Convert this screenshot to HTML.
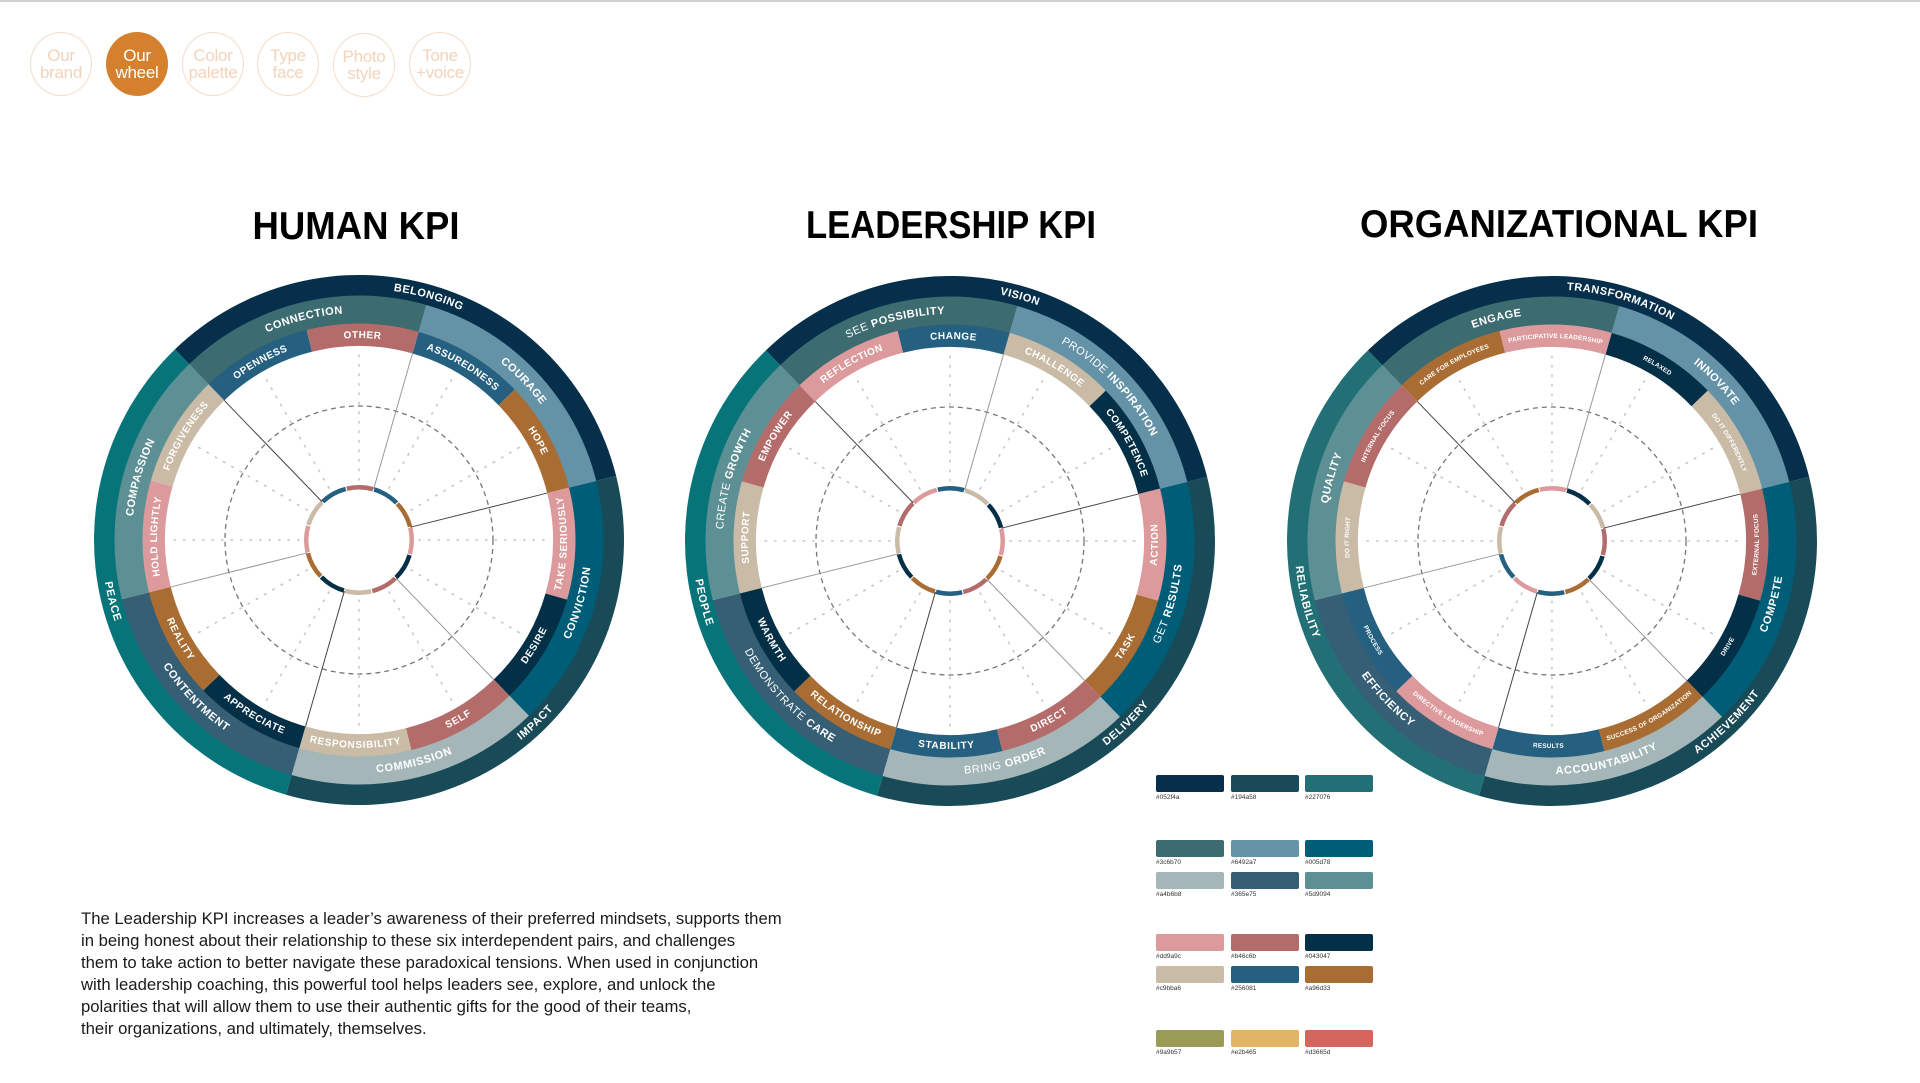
<!DOCTYPE html>
<html><head><meta charset="utf-8">
<style>
html,body{margin:0;padding:0;background:#fff;}
body{width:1920px;height:1083px;position:relative;overflow:hidden;font-family:"Liberation Sans",sans-serif;}
.topline{position:absolute;left:0;top:0;width:1920px;height:2px;background:#d0d0d0;}
.nav{position:absolute;width:62px;height:64px;border-radius:50%;border:1.5px solid #f6dcc8;box-sizing:border-box;color:#f3d3ba;font-size:17px;line-height:17px;text-align:center;display:flex;align-items:center;justify-content:center;letter-spacing:-0.3px;}
.nav.active{background:#d4802d;border-color:#d4802d;color:#fff;}
.para{position:absolute;left:81px;top:908px;font-size:16.7px;line-height:22px;color:#1a1a1a;white-space:nowrap;}
.sw{position:absolute;width:68px;height:17px;border-radius:2px;}
.swl{position:absolute;font-size:6.5px;color:#333;}
</style></head>
<body>
<div class="topline"></div>
<div class="nav" style="left:30px;top:32px">Our<br>brand</div>
<div class="nav active" style="left:106px;top:32px">Our<br>wheel</div>
<div class="nav" style="left:182px;top:32px">Color<br>palette</div>
<div class="nav" style="left:257px;top:32px">Type<br>face</div>
<div class="nav" style="left:333px;top:33px">Photo<br>style</div>
<div class="nav" style="left:409px;top:32px">Tone<br>+voice</div>

<svg id="chart" width="1920" height="1083" style="position:absolute;left:0;top:0">
<text x="356" y="239" text-anchor="middle" font-family="Liberation Sans" font-weight="bold" font-size="39" textLength="207" lengthAdjust="spacingAndGlyphs">HUMAN KPI</text>
<text x="951" y="238" text-anchor="middle" font-family="Liberation Sans" font-weight="bold" font-size="39" textLength="290" lengthAdjust="spacingAndGlyphs">LEADERSHIP KPI</text>
<text x="1559" y="237" text-anchor="middle" font-family="Liberation Sans" font-weight="bold" font-size="39" textLength="398" lengthAdjust="spacingAndGlyphs">ORGANIZATIONAL KPI</text>
</svg>

<div class="para">The Leadership KPI increases a leader’s awareness of their preferred mindsets, supports them<br>in being honest about their relationship to these six interdependent pairs, and challenges<br>them to take action to better navigate these paradoxical tensions. When used in conjunction<br>with leadership coaching, this powerful tool helps leaders see, explore, and unlock the<br>polarities that will allow them to use their authentic gifts for the good of their teams,<br>their organizations, and ultimately, themselves.</div>

<div id="swatches"></div>

<script>
const B="#256081",BR="#a96d33",P="#dd9a9c",D="#043047",R="#b46c6b",BE="#c9bba6";
const middleColors=["#6492a7","#005d78","#a4b6b8","#365e75","#5d9094","#3c6b70"];
const humanOuter=["BELONGING","IMPACT","PEACE"];
const humanOuterColors=["#052f4a","#194a58","#077479"];
const humanMiddle=["COURAGE","CONVICTION","COMMISSION","CONTENTMENT","COMPASSION","CONNECTION"];
const humanInner=["ASSUREDNESS","HOPE","TAKE SERIOUSLY","DESIRE","SELF","RESPONSIBILITY","APPRECIATE","REALITY","HOLD LIGHTLY","FORGIVENESS","OPENNESS","OTHER"];
const humanInnerColors=[B,BR,P,D,R,BE,D,BR,P,BE,B,R];
const leadOuter=["VISION","DELIVERY","PEOPLE"];
const leadOuterColors=["#052f4a","#194a58","#077479"];
const leadMiddle=["PROVIDE|INSPIRATION","GET|RESULTS","BRING|ORDER","DEMONSTRATE|CARE","CREATE|GROWTH","SEE|POSSIBILITY"];
const leadInner=["CHALLENGE","COMPETENCE","ACTION","TASK","DIRECT","STABILITY","RELATIONSHIP","WARMTH","SUPPORT","EMPOWER","REFLECTION","CHANGE"];
const leadInnerColors=[BE,D,P,BR,R,B,BR,D,BE,R,P,B];
const orgOuter=["TRANSFORMATION","ACHIEVEMENT","RELIABILITY"];
const orgOuterColors=["#052f4a","#194a58","#227076"];
const orgMiddle=["INNOVATE","COMPETE","ACCOUNTABILITY","EFFICIENCY","QUALITY","ENGAGE"];
const orgInner=["RELAXED","DO IT DIFFERENTLY","EXTERNAL FOCUS","DRIVE","SUCCESS OF ORGANIZATION","RESULTS","DIRECTIVE LEADERSHIP","PROCESS","DO IT RIGHT","INTERNAL FOCUS","CARE FOR EMPLOYEES","PARTICIPATIVE LEADERSHIP"];
const orgInnerColors=[D,BE,R,D,BR,B,P,B,BE,R,BR,P];
const swatchColors=["#052f4a","#194a58","#227076","#3c6b70","#6492a7","#005d78","#a4b6b8","#365e75","#5d9094","#dd9a9c","#b46c6b","#043047","#c9bba6","#256081","#a96d33","#9a9b57","#e2b465","#d3665d"];

const NS="http://www.w3.org/2000/svg";
const svg=document.getElementById('chart');
let pid=0;
function pt(cx,cy,r,a){const t=a*Math.PI/180;return [cx+r*Math.sin(t),cy-r*Math.cos(t)];}
function sector(cx,cy,r0,r1,a0,a1){
  const p1=pt(cx,cy,r1,a0),p2=pt(cx,cy,r1,a1),p3=pt(cx,cy,r0,a1),p4=pt(cx,cy,r0,a0);
  const lg=(a1-a0)>180?1:0;
  return `M${p1[0]},${p1[1]}A${r1},${r1} 0 ${lg} 1 ${p2[0]},${p2[1]}L${p3[0]},${p3[1]}A${r0},${r0} 0 ${lg} 0 ${p4[0]},${p4[1]}Z`;
}
function el(tag,attrs,parent){const e=document.createElementNS(NS,tag);for(const k in attrs)e.setAttribute(k,attrs[k]);(parent||svg).appendChild(e);return e;}
function label(g,cx,cy,r,a0,a1,txt,fs,name,ls){
  const mid=((a0+a1)/2+360)%360;
  const bottom=mid>90&&mid<270;
  let d;
  if(!bottom){const s=pt(cx,cy,r,a0),e=pt(cx,cy,r,a1);d=`M${s[0]},${s[1]}A${r},${r} 0 0 1 ${e[0]},${e[1]}`;}
  else{const s=pt(cx,cy,r,a1),e=pt(cx,cy,r,a0);d=`M${s[0]},${s[1]}A${r},${r} 0 0 0 ${e[0]},${e[1]}`;}
  const id='tp'+(pid++);
  el('path',{id:id,d:d,fill:'none',stroke:'none'},g);
  const t=el('text',{'font-family':'Liberation Sans','font-size':fs,'font-weight':'bold',fill:'#fff','letter-spacing':ls,'dominant-baseline':'central'},g);
  
  
  const tp=el('textPath',{href:'#'+id,startOffset:'50%','text-anchor':'middle'},t);
  const parts=txt.split('|');
  if(parts.length===2){
    const a=el('tspan',{'font-weight':'normal'},tp);a.textContent=parts[0]+' ';
    const b=el('tspan',{},tp);b.textContent=parts[1];
  } else tp.textContent=txt;
}
function slug(s){return s.toLowerCase().replace(/\|/g,' ').replace(/[^a-z]+/g,'-');}
function wheel(key,cx,cy,outer,outerC,middle,inner,innerC,innerFs,innerLs){
  const g=el('g',{});
  
  
  for(let k=0;k<12;k++){
    const a=k*30,p0=pt(cx,cy,60,a),p1=pt(cx,cy,190,a);
    const l=el('line',{x1:p0[0],y1:p0[1],x2:p1[0],y2:p1[1],stroke:'#c8c8c8','stroke-width':1.6,'stroke-dasharray':'1.5 8','stroke-linecap':'round'},g);
    
    
  }
  const dc=el('circle',{cx:cx,cy:cy,r:134,fill:'none',stroke:'#777','stroke-width':1.3,'stroke-dasharray':'5 4'},g);
  
  
  for(let k=0;k<6;k++){
    const a=16+k*60,p0=pt(cx,cy,53,a),p1=pt(cx,cy,194,a);
    const l=el('line',{x1:p0[0],y1:p0[1],x2:p1[0],y2:p1[1],stroke:k%2?'#444':'#999','stroke-width':1},g);
    
    
  }
  outer.forEach((t,i)=>{
    const a0=-44+i*120,a1=a0+120;
    const s=el('path',{d:sector(cx,cy,244,265,a0,a1),fill:outerC[i]},g);
    
    
    label(g,cx,cy,254.5,a0,a1,t,11,'outer-label-'+slug(t),0.6);
  });
  middle.forEach((t,i)=>{
    const a0=16+i*60,a1=a0+60;
    const s=el('path',{d:sector(cx,cy,216,244.5,a0,a1),fill:middleColors[i]},g);
    
    
    label(g,cx,cy,230,a0,a1,t,11,'middle-label-'+slug(t),0.6);
  });
  inner.forEach((t,i)=>{
    const a0=16+i*30,a1=a0+30;
    const s=el('path',{d:sector(cx,cy,194,216.5,a0,a1),fill:innerC[i]},g);
    
    
    label(g,cx,cy,205,a0,a1,t,innerFs,'inner-label-'+slug(t),innerLs);
    const c=el('path',{d:sector(cx,cy,50.5,55,a0+0.6,a1-0.6),fill:innerC[i]},g);
    
    
  });
}
wheel('human',359,540,humanOuter,humanOuterColors,humanMiddle,humanInner,humanInnerColors,10,0.6);
wheel('leadership',950,541,leadOuter,leadOuterColors,leadMiddle,leadInner,leadInnerColors,10,0.6);
wheel('organizational',1552,541,orgOuter,orgOuterColors,orgMiddle,orgInner,orgInnerColors,6.4,0.2);

const swRows=[775,840,872,934,966,1030],swCols=[1156,1231,1305];
const box=document.getElementById('swatches');
swatchColors.forEach((c,i)=>{
  const r=Math.floor(i/3),col=i%3;
  const d=document.createElement('div');d.className='sw';
  d.style.left=swCols[col]+'px';d.style.top=swRows[r]+'px';d.style.background=c;
  
  
  box.appendChild(d);
  const l=document.createElement('div');l.className='swl';
  l.style.left=swCols[col]+'px';l.style.top=(swRows[r]+19)+'px';l.textContent=c;
  
  
  box.appendChild(l);
});
</script>
</body></html>
